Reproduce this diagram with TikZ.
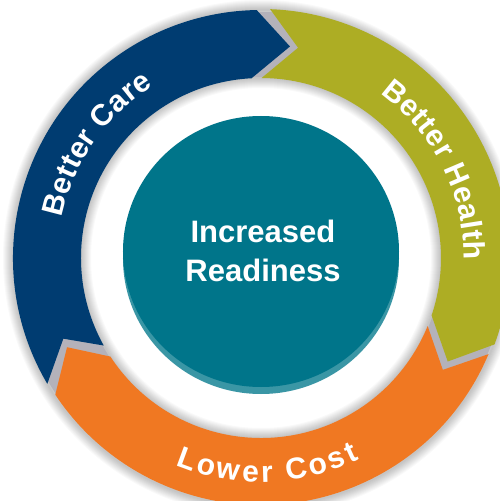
\documentclass[tikz,border=0pt]{standalone}
\usepackage{fontspec}
\setmainfont{Liberation Sans}
\usetikzlibrary{decorations.text}
\definecolor{cblue}{HTML}{003C71}
\definecolor{colive}{HTML}{ADAD24}
\definecolor{corange}{HTML}{F07822}
\definecolor{cgap}{HTML}{B4B2BA}
\definecolor{cteal}{HTML}{00758A}
\definecolor{ctealL}{HTML}{3A96A5}
\tikzset{
  ringshadow/.style={black, opacity=0.022},
  arctext/.style={decorate, decoration={text along path, text color=white,
      text align=fit to path, text={|\bfseries\fontsize{30}{30}\selectfont|#1}}},
  centertext/.style={text=white, font=\bfseries\fontsize{31}{31}\selectfont, anchor=base, inner sep=0pt}
}
\begin{document}
\begin{tikzpicture}[x=1pt,y=1pt]
\useasboundingbox (-261,258) rectangle (238,-243);
\fill[white] (-261,258) rectangle (238,-243);
% soft shadows of the ring
\foreach \i in {1,...,10} {
  \draw[ringshadow, line width={2pt*\i}] (0,0) circle[radius=180];
  \draw[ringshadow, line width={2pt*\i}] (0,0) circle[radius=248];
}
% gray gaps between arrows
\fill[cgap, even odd rule] (0,0) circle[radius=246] (0,0) circle[radius=181];
% Better Care (blue)
\fill[cblue] (210.5:248) arc[start angle=210.5, end angle=91, radius=248]
  -- (82.2:213.5) -- (93:180) arc[start angle=93, end angle=209.1, radius=180]
  -- (202.2:213.5) -- cycle;
% Better Health (olive)
\fill[colive] (87.9:249) arc[start angle=87.9, end angle=-20.3, radius=249]
  -- (-29:213.5) -- (-18.6:180) arc[start angle=-18.6, end angle=89.8, radius=180]
  -- (80:213.5) -- cycle;
% Lower Cost (orange)
\fill[corange] (-22.9:247) arc[start angle=-22.9, end angle=-146.4, radius=247]
  -- (-155.3:213.5) -- (-146.8:180) arc[start angle=-146.8, end angle=-22.2, radius=180]
  -- (-31.6:213.5) -- cycle;
% centre circle
\fill[ctealL] (0,-0.5) ellipse[x radius=138, y radius=135.5];
\fill[cteal] (0,6.5) ellipse[x radius=138, y radius=135.5];
\node[centertext] (t1) at (2,16) {Increased};
\node[centertext] (t2) at (2,-23) {Readiness};
% arc labels
\path[arctext={Better Care}] (168.5:203) arc[start angle=168.5, end angle=122, radius=203];
\path[arctext={Better Health}] (54:203) arc[start angle=54, end angle=-0.5, radius=203];
\path[arctext={Lower Cost}] (247.5:224) arc[start angle=247.5, end angle=296, radius=224];
\end{tikzpicture}
\end{document}
